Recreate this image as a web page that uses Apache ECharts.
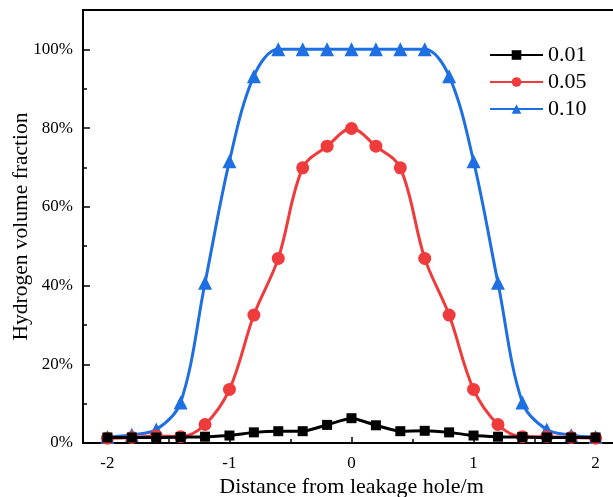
<!DOCTYPE html>
<html>
<head>
<meta charset="utf-8">
<script src="https://cdn.jsdelivr.net/npm/echarts@6/dist/echarts.min.js"></script>
<style>html,body{margin:0;padding:0;background:#fff;overflow:hidden;width:613px;height:497px}#c{width:620px;height:497px}</style>
</head>
<body>
<div id="c"></div>
<script>
const distances = [-2,-1.8,-1.6,-1.4,-1.2,-1,-0.8,-0.6,-0.4,-0.2,0,0.2,0.4,0.6,0.8,1,1.2,1.4,1.6,1.8,2];
const seriesNames = ['0.01','0.05','0.10'];
const s001 = [1.4,1.4,1.4,1.5,1.6,1.9,2.7,3.0,3.0,4.6,6.3,4.5,3.0,3.1,2.7,1.9,1.6,1.5,1.4,1.4,1.4];
const s005 = [1.2,1.4,1.8,1.6,4.7,13.6,32.5,46.9,69.9,75.4,79.9,75.4,69.9,46.9,32.5,13.6,4.7,1.6,1.6,1.4,1.2];
const s010 = [1.5,2.1,3.4,10.3,40.7,71.6,93.2,100,100,100,100,100,100,100,93.2,71.6,40.7,10.3,3.4,2.0,1.5];
const yTicks = [0,20,40,60,80,100];
const yMinorTicks = [10,30,50,70,90];
const xTicks = [-2,-1,0,1,2];
const xMinorTicks = [-1.5,-0.5,0.5,1.5];

const colors = ['#000000','#ef3b3c','#1e6fe2'];
const symbols = ['rect','circle','triangle'];
const sizes = [10,13,14];
const datasets = [s001,s005,s010];

const chart = echarts.init(document.getElementById('c'), null, {renderer:'canvas'});
const font = '"Liberation Serif","Times New Roman",serif';
const tickLine = {color:'#000',width:1.5};
chart.setOption({
  animation:false,
  textStyle:{fontFamily:font},
  grid:{left:83,right:0,top:10,bottom:54,show:true,borderColor:'#000',borderWidth:2,
        containLabel:false,outerBoundsMode:'none'},
  legend:{
    data:seriesNames,
    orient:'vertical',
    left:489, top:44, padding:0,
    itemWidth:53, itemHeight:12,
    itemGap:5,
    textStyle:{fontFamily:font,fontSize:22,color:'#000',lineHeight:22}
  },
  xAxis:[{
    type:'value', min:-2.2, max:2.2,
    name:'Distance from leakage hole/m', nameLocation:'middle', nameGap:33,
    nameMoveOverlap:false,
    nameTextStyle:{fontFamily:font,fontSize:22,color:'#000'},
    axisLine:{show:true,onZero:false,lineStyle:{color:'#000',width:2}},
    axisTick:{show:true,inside:true,length:6,lineStyle:tickLine,customValues:xTicks},
    axisLabel:{fontFamily:font,fontSize:17,color:'#000',margin:12,customValues:xTicks},
    splitLine:{show:false}
  },{
    type:'value', min:-2.2, max:2.2, position:'bottom',
    axisLine:{show:false,onZero:false},
    axisTick:{show:true,inside:true,length:4,lineStyle:tickLine,customValues:xMinorTicks},
    axisLabel:{show:false},
    splitLine:{show:false}
  }],
  yAxis:[{
    type:'value', min:0, max:110, interval:20,
    name:'Hydrogen volume fraction', nameLocation:'middle', nameGap:51,
    nameMoveOverlap:false,
    nameTextStyle:{fontFamily:font,fontSize:21.5,color:'#000'},
    axisLine:{show:true,onZero:false,lineStyle:{color:'#000',width:2}},
    axisTick:{show:true,inside:true,length:7,lineStyle:tickLine,customValues:yTicks},
    axisLabel:{fontFamily:font,fontSize:17,color:'#000',margin:10,customValues:yTicks,
      formatter:v=>v+'%'},
    splitLine:{show:false}
  },{
    type:'value', min:0, max:110, interval:20, position:'left',
    axisLine:{show:false,onZero:false},
    axisTick:{show:true,inside:true,length:4,lineStyle:tickLine,customValues:yMinorTicks},
    axisLabel:{show:false},
    splitLine:{show:false}
  }],
  series:datasets.map((d,i)=>({
    name:seriesNames[i], type:'line',
    xAxisIndex:0, yAxisIndex:0,
    data:distances.map((x,j)=>[x,d[j]]),
    smooth:i===0?0.2:0.35,
    symbol:symbols[i], symbolSize:sizes[i],
    lineStyle:{color:colors[i],width:3},
    itemStyle:{color:colors[i]},
    z:i===0?4:(i===1?3:2)
  }))
});
</script>
</body>
</html>
